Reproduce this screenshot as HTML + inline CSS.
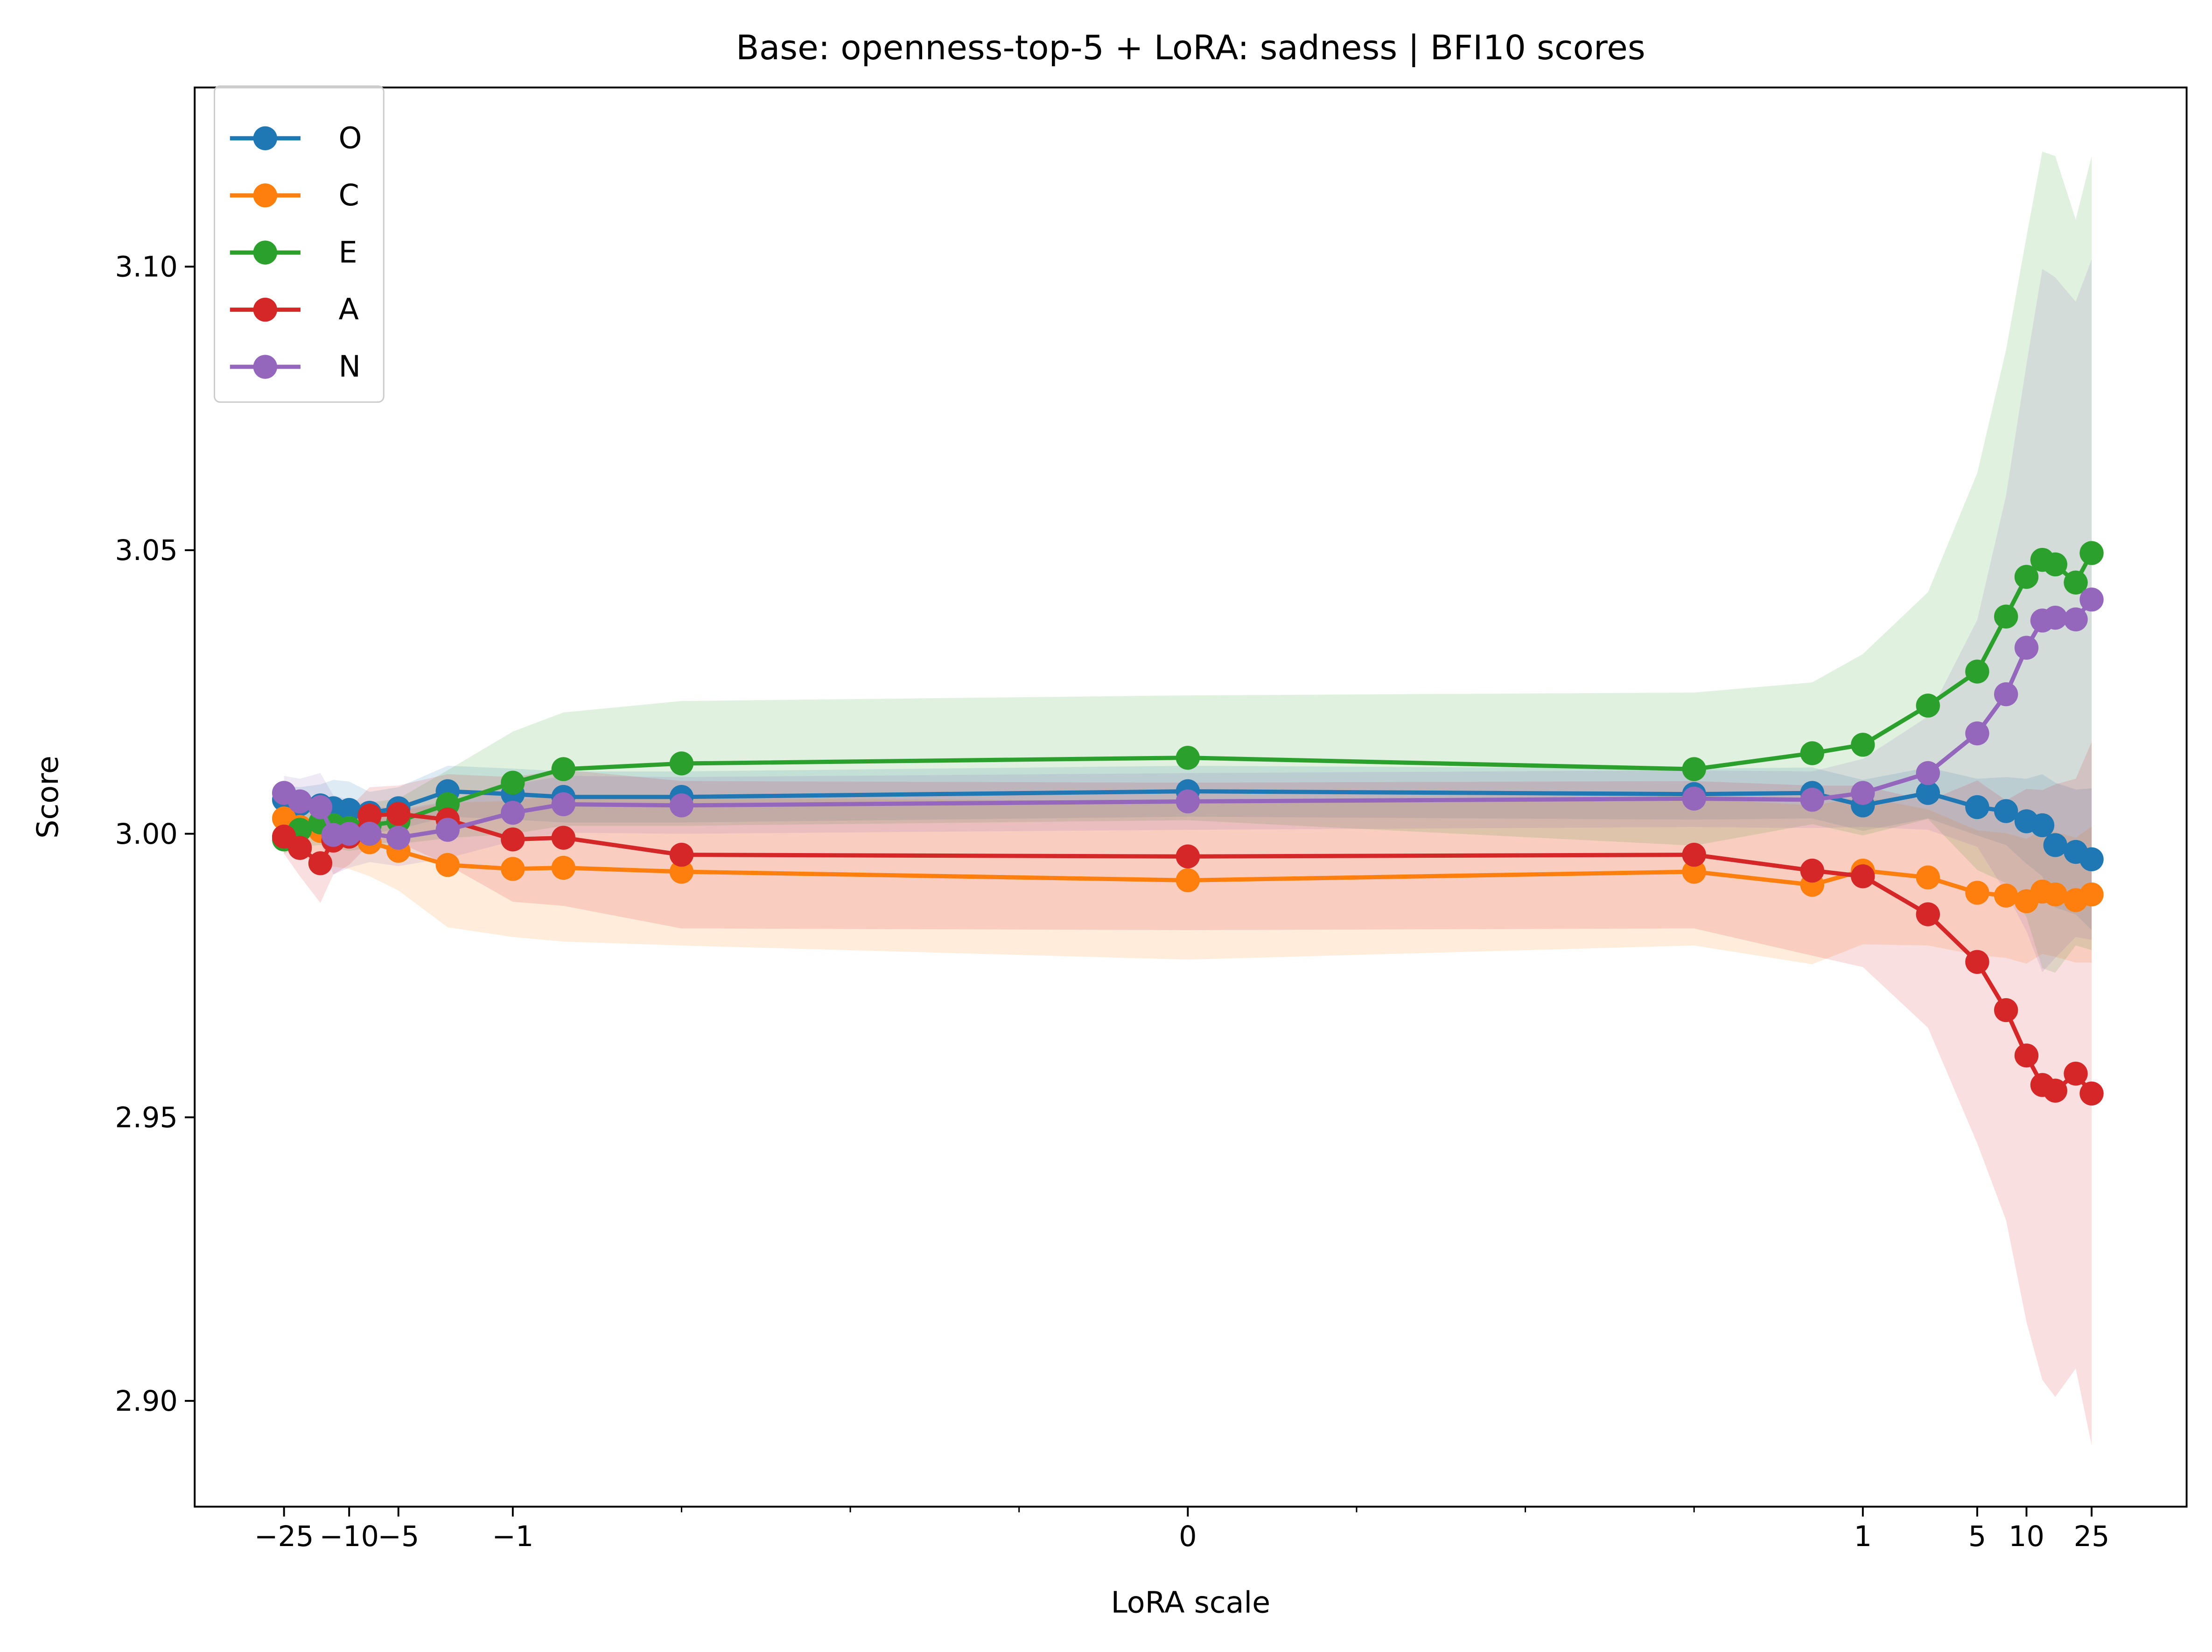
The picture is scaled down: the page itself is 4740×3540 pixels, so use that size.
<!DOCTYPE html>
<html><head><meta charset="utf-8"><style>
html,body{margin:0;padding:0;background:#fff;}
svg{display:block;font-family:"DejaVu Sans","Liberation Sans",sans-serif;}
</style></head><body>
<svg id="chart" width="4740" height="3540" viewBox="0 0 1568 1171" xmlns="http://www.w3.org/2000/svg">
<rect x="0" y="0" width="1568" height="1171" fill="#fff"/>
<g id="bands"></g><g id="lines"></g><g id="axes"></g><g id="legend"></g>
</svg>
<script>
const xs = [-25,-20,-15,-12.5,-10,-7.5,-5,-2.5,-1,-0.925,-0.75,0,0.75,0.925,1,2.5,5,7.5,10,12.5,15,20,25];
const seriesNames = ["O","C","E","A","N"];
const colors = ["#1f77b4","#ff7f0e","#2ca02c","#d62728","#9467bd"];
const valO = [3.0060,3.0052,3.0050,3.0045,3.0042,3.0037,3.0045,3.0075,3.0070,3.0065,3.0065,3.0075,3.0070,3.0072,3.0050,3.0072,3.0047,3.0040,3.0022,3.0015,2.9980,2.9968,2.9955];
const valC = [3.0027,3.0012,3.0005,3.0002,2.9998,2.9985,2.9970,2.9945,2.9938,2.9940,2.9933,2.9918,2.9933,2.9910,2.9935,2.9923,2.9896,2.9891,2.9881,2.9898,2.9893,2.9883,2.9893];
const valE = [2.9990,3.0007,3.0020,3.0015,3.0010,3.0015,3.0022,3.0052,3.0090,3.0114,3.0124,3.0134,3.0114,3.0142,3.0157,3.0226,3.0286,3.0383,3.0453,3.0483,3.0475,3.0443,3.0495];
const valA = [2.9995,2.9975,2.9948,2.9988,2.9995,3.0032,3.0035,3.0025,2.9990,2.9993,2.9963,2.9960,2.9963,2.9935,2.9925,2.9858,2.9774,2.9689,2.9609,2.9557,2.9547,2.9577,2.9542];
const valN = [3.0072,3.0057,3.0047,2.9998,3.0000,3.0000,2.9993,3.0007,3.0037,3.0052,3.0050,3.0057,3.0062,3.0060,3.0072,3.0107,3.0177,3.0246,3.0328,3.0376,3.0381,3.0378,3.0413];
const errO = [0.0025,0.003,0.0037,0.005,0.005,0.0037,0.0037,0.0045,0.0045,0.0045,0.0045,0.0045,0.0045,0.0045,0.0045,0.0045,0.005,0.006,0.0075,0.009,0.011,0.011,0.0125];
const errC = [0.004,0.005,0.006,0.006,0.006,0.006,0.007,0.011,0.012,0.013,0.013,0.014,0.013,0.014,0.013,0.012,0.011,0.011,0.011,0.011,0.011,0.011,0.012];
const errE = [0.0025,0.003,0.004,0.004,0.004,0.004,0.004,0.006,0.009,0.010,0.011,0.011,0.0135,0.0125,0.016,0.020,0.035,0.047,0.060,0.072,0.072,0.064,0.070];
const errA = [0.003,0.005,0.007,0.006,0.005,0.005,0.005,0.008,0.011,0.012,0.013,0.013,0.013,0.015,0.016,0.020,0.032,0.037,0.047,0.052,0.054,0.052,0.062];
const errN = [0.003,0.004,0.006,0.007,0.006,0.005,0.005,0.005,0.005,0.005,0.005,0.005,0.005,0.005,0.006,0.010,0.020,0.035,0.050,0.062,0.060,0.056,0.060];
const xTickVals = [-25,-10,-5,-1,0,1,5,10,25];
const xTickLabels = ["\u221225","\u221210","\u22125","\u22121","0","1","5","10","25"];
const xMinorVals = [-0.75,-0.5,-0.25,0.25,0.5,0.75];
const yTickVals = [2.90,2.95,3.00,3.05,3.10];
const yTickLabels = ["2.90","2.95","3.00","3.05","3.10"];

const vals=[valO,valC,valE,valA,valN], errs=[errO,errC,errE,errA,errN];
const NS="http://www.w3.org/2000/svg";
const L=138,R=1550,T=62,B=1068;
function xPos(v){const a=Math.abs(v);const s=Math.sign(v);if(a<=1)return 842+478.5*v;return 842+s*(478.5+116*Math.log10(a));}
function yPos(v){return 591-(v-3.0)*4020;}
function mk(tag,attrs,parent){const e=document.createElementNS(NS,tag);for(const k in attrs)e.setAttribute(k,attrs[k]);parent.appendChild(e);return e;}
const gB=document.getElementById('bands'),gL=document.getElementById('lines'),gA=document.getElementById('axes'),gG=document.getElementById('legend');

for(let s=0;s<5;s++){
  let up=xs.map((x,i)=>xPos(x).toFixed(1)+","+yPos(vals[s][i]+errs[s][i]).toFixed(1));
  let lo=xs.map((x,i)=>xPos(x).toFixed(1)+","+yPos(vals[s][i]-errs[s][i]).toFixed(1)).reverse();
  const p=mk('polygon',{points:up.concat(lo).join(" "),fill:colors[s],'fill-opacity':0.15,stroke:'none'},gB);
  
  
}
for(let s=0;s<5;s++){
  const g=mk('g',{},gL);
  
  
  const pl=mk('polyline',{points:xs.map((x,i)=>xPos(x).toFixed(1)+","+yPos(vals[s][i]).toFixed(1)).join(" "),fill:'none',stroke:colors[s],'stroke-width':3},g);
  
  
  xs.forEach((x,i)=>{
    const c=mk('circle',{cx:xPos(x),cy:yPos(vals[s][i]),r:8.5,fill:colors[s]},g);
    
    
  });
}
const fr=mk('rect',{x:L,y:T,width:R-L,height:B-T,fill:'none',stroke:'#000','stroke-width':1.3},gA);


xTickVals.forEach((v,i)=>{
  const x=xPos(v);
  mk('line',{x1:x,y1:B,x2:x,y2:B+7,stroke:'#000','stroke-width':1.3},gA);
  const t=mk('text',{x:x,y:B+28,'font-size':20,'text-anchor':'middle',fill:'#000'},gA);
  t.textContent=xTickLabels[i];
  
  
});
xMinorVals.forEach(v=>{const x=xPos(v);mk('line',{x1:x,y1:B,x2:x,y2:B+4,stroke:'#000','stroke-width':1},gA);});
yTickVals.forEach((v,i)=>{
  const y=yPos(v);
  mk('line',{x1:L-7,y1:y,x2:L,y2:y,stroke:'#000','stroke-width':1.3},gA);
  const t=mk('text',{x:L-12,y:y+7,'font-size':20,'text-anchor':'end',fill:'#000'},gA);
  t.textContent=yTickLabels[i];
  
  
});
const xt=mk('text',{x:844,y:1143,'font-size':21,'text-anchor':'middle'},gA);xt.textContent="LoRA scale";


const yt=mk('text',{x:41,y:565,'font-size':21,'text-anchor':'middle',transform:'rotate(-90 41 565)'},gA);yt.textContent="Score";


const tt=mk('text',{x:844,y:42,'font-size':24,'text-anchor':'middle'},gA);tt.textContent="Base: openness-top-5 + LoRA: sadness | BFI10 scores";


const lb=mk('rect',{x:152,y:61,width:120,height:224,rx:4,fill:'#fff','fill-opacity':0.8,stroke:'#ccc','stroke-width':1},gG);


seriesNames.forEach((n,i)=>{
  const y=98+40.5*i;
  const g=mk('g',{},gG);
  
  
  mk('line',{x1:163,y1:y,x2:213,y2:y,stroke:colors[i],'stroke-width':3},g);
  mk('circle',{cx:188,cy:y,r:8.5,fill:colors[i]},g);
  const t=mk('text',{x:240,y:y+7,'font-size':21},g);t.textContent=n;
});
</script>
</body></html>
